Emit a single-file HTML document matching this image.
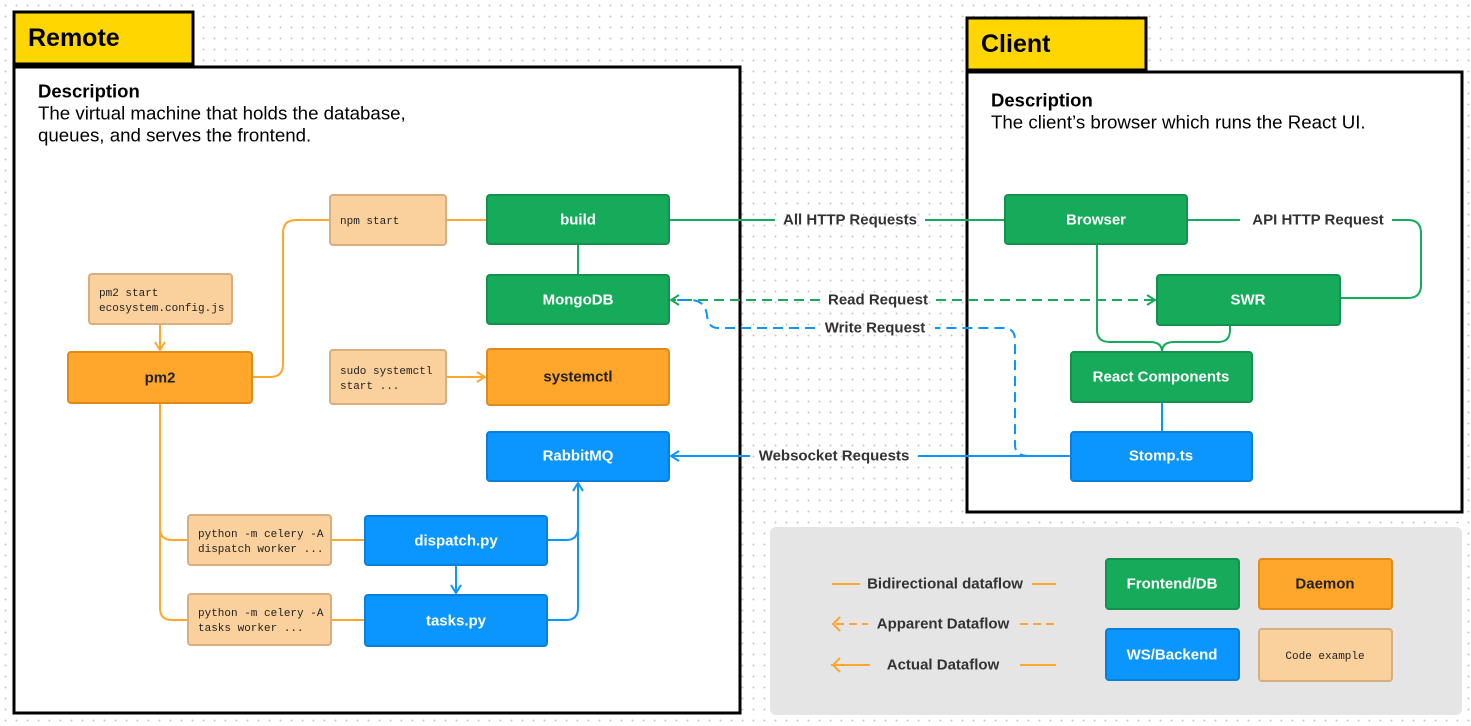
<!DOCTYPE html>
<html><head><meta charset="utf-8"><style>
html,body{margin:0;padding:0;width:1471px;height:726px;overflow:hidden;background:#fff;
background-image:radial-gradient(circle,#c8c8c8 0.8px,transparent 1.1px);background-size:11px 11px;}
svg{position:absolute;left:0;top:0;font-family:"Liberation Sans",sans-serif}
.n{font-weight:bold;font-size:15px;fill:#fff;text-anchor:middle;dominant-baseline:central}
.d{fill:#222;font-weight:bold;font-size:15px;text-anchor:middle;dominant-baseline:central}
.c{font-family:"Liberation Mono",monospace;font-size:11px;fill:#222}
.l{font-weight:bold;font-size:15px;fill:#333;text-anchor:middle;dominant-baseline:central}
</style></head><body>
<svg width="1471" height="726" viewBox="0 0 1471 726">
<defs>
<marker id="ao" markerWidth="10" markerHeight="12" refX="9" refY="6" orient="auto" markerUnits="userSpaceOnUse"><path d="M1,1 L9,6 L1,11" fill="none" stroke="#FFA62B" stroke-width="2"/></marker>
<marker id="ab" markerWidth="10" markerHeight="12" refX="9" refY="6" orient="auto" markerUnits="userSpaceOnUse"><path d="M1,1 L9,6 L1,11" fill="none" stroke="#0A95FF" stroke-width="2"/></marker>
<marker id="ag" markerWidth="10" markerHeight="12" refX="9" refY="6" orient="auto" markerUnits="userSpaceOnUse"><path d="M1,1 L9,6 L1,11" fill="none" stroke="#16AB5A" stroke-width="2"/></marker>
</defs>
<!-- containers -->
<rect x="14" y="67" width="726" height="646" fill="#fff" stroke="#000" stroke-width="3"/>
<rect x="14" y="12" width="179" height="52" fill="#FFD600" stroke="#000" stroke-width="3"/>
<text x="28" y="38" font-size="25" font-weight="bold" dominant-baseline="central">Remote</text>
<text x="38" y="91" font-size="18.5" font-weight="bold" dominant-baseline="central">Description</text>
<text x="38" y="113" font-size="18.7" dominant-baseline="central">The virtual machine that holds the database,</text>
<text x="38" y="135" font-size="18.7" dominant-baseline="central">queues, and serves the frontend.</text>

<rect x="967" y="72" width="495" height="440" fill="#fff" stroke="#000" stroke-width="3"/>
<rect x="967" y="18" width="179" height="52" fill="#FFD600" stroke="#000" stroke-width="3"/>
<text x="981" y="44" font-size="25" font-weight="bold" dominant-baseline="central">Client</text>
<text x="991" y="100" font-size="18.5" font-weight="bold" dominant-baseline="central">Description</text>
<text x="991" y="122" font-size="18.7" dominant-baseline="central">The client’s browser which runs the React UI.</text>

<rect x="770" y="527" width="692" height="188" rx="6" fill="#e5e5e5"/>

<!-- connectors -->
<g fill="none" stroke-width="2">
<path d="M252,377 H270 Q283,377 283,364 V233 Q283,220 296,220 H330" stroke="#FFA62B"/>
<path d="M446,220 H487" stroke="#FFA62B"/>
<path d="M160,324 V350" stroke="#FFA62B" marker-end="url(#ao)"/>
<path d="M446,377 H485" stroke="#FFA62B" marker-end="url(#ao)"/>
<path d="M160,403 V528 Q160,540 172,540 H188" stroke="#FFA62B"/>
<path d="M160,530 V608 Q160,620 172,620 H188" stroke="#FFA62B"/>
<path d="M331,540 H365 M331,620 H365" stroke="#FFA62B"/>
<path d="M578,244 V275" stroke="#16AB5A"/>
<path d="M456,565 V593" stroke="#0A95FF" marker-end="url(#ab)"/>
<path d="M547,540 H566 Q578,540 578,528 V483" stroke="#0A95FF" marker-end="url(#ab)"/>
<path d="M547,620 H566 Q578,620 578,608 V530" stroke="#0A95FF"/>
<path d="M669,220 H775 M925,220 H1005" stroke="#16AB5A"/>
<path d="M1187,220 H1240 M1392,220 H1408 Q1421,220 1421,233 V285 Q1421,298 1408,298 H1340" stroke="#16AB5A"/>
<path d="M1097,244 V330 Q1097,342 1110,342 H1150 Q1162,342 1162,352" stroke="#16AB5A"/>
<path d="M1230,325 V330 Q1230,342 1218,342 H1174 Q1162,342 1162,352" stroke="#16AB5A"/>
<path d="M1162,402 V432" stroke="#0A95FF"/>
<path d="M1071,456 H918 M750,456 H671" stroke="#0A95FF" marker-end="url(#ab)"/>
<path d="M820,300 H671" stroke="#16AB5A" stroke-dasharray="10,6" marker-end="url(#ag)"/>
<path d="M936,300 H1155" stroke="#16AB5A" stroke-dasharray="10,6" marker-end="url(#ag)"/>
<path d="M1030,456 Q1015,456 1015,445 V340 Q1015,328 1003,328 H935 M815,328 H718 Q708,328 707,315 Q705,300 690,300 H673" stroke="#0A95FF" stroke-dasharray="10,6"/>
</g>
<text class="l" x="850" y="220">All HTTP Requests</text>
<text class="l" x="1318" y="220">API HTTP Request</text>
<text class="l" x="878" y="300">Read Request</text>
<text class="l" x="875" y="328">Write Request</text>
<text class="l" x="834" y="456">Websocket Requests</text>

<!-- nodes -->
<g stroke-width="2">
<rect x="487" y="195" width="182" height="49" rx="3" fill="#16AB5A" stroke="#12924c"/>
<rect x="487" y="275" width="182" height="49" rx="3" fill="#16AB5A" stroke="#12924c"/>
<rect x="487" y="349" width="182" height="56" rx="3" fill="#FFA62B" stroke="#e08a18"/>
<rect x="487" y="432" width="182" height="49" rx="3" fill="#0A95FF" stroke="#087fd9"/>
<rect x="330" y="195" width="116" height="50" rx="3" fill="#FAD09C" stroke="#d8ae80"/>
<rect x="89" y="274" width="143" height="50" rx="3" fill="#FAD09C" stroke="#d8ae80"/>
<rect x="68" y="352" width="184" height="51" rx="3" fill="#FFA62B" stroke="#e08a18"/>
<rect x="330" y="350" width="116" height="54" rx="3" fill="#FAD09C" stroke="#d8ae80"/>
<rect x="188" y="515" width="143" height="50" rx="3" fill="#FAD09C" stroke="#d8ae80"/>
<rect x="365" y="516" width="182" height="49" rx="3" fill="#0A95FF" stroke="#087fd9"/>
<rect x="188" y="594" width="143" height="51" rx="3" fill="#FAD09C" stroke="#d8ae80"/>
<rect x="365" y="595" width="182" height="51" rx="3" fill="#0A95FF" stroke="#087fd9"/>
<rect x="1005" y="195" width="182" height="49" rx="3" fill="#16AB5A" stroke="#12924c"/>
<rect x="1157" y="275" width="183" height="50" rx="3" fill="#16AB5A" stroke="#12924c"/>
<rect x="1071" y="352" width="181" height="50" rx="3" fill="#16AB5A" stroke="#12924c"/>
<rect x="1071" y="432" width="181" height="49" rx="3" fill="#0A95FF" stroke="#087fd9"/>
<rect x="1106" y="559" width="133" height="50" rx="3" fill="#16AB5A" stroke="#12924c"/>
<rect x="1259" y="559" width="133" height="50" rx="3" fill="#FFA62B" stroke="#e08a18"/>
<rect x="1106" y="629" width="133" height="51" rx="3" fill="#0A95FF" stroke="#087fd9"/>
<rect x="1259" y="629" width="133" height="52" rx="3" fill="#FAD09C" stroke="#d8ae80"/>
</g>
<text class="n" x="578" y="220">build</text>
<text class="n" x="578" y="300">MongoDB</text>
<text class="d" x="578" y="377">systemctl</text>
<text class="n" x="578" y="456">RabbitMQ</text>
<text class="d" x="160" y="378">pm2</text>
<text class="n" x="456" y="541">dispatch.py</text>
<text class="n" x="456" y="621">tasks.py</text>
<text class="n" x="1096" y="220">Browser</text>
<text class="n" x="1248" y="300">SWR</text>
<text class="n" x="1161" y="377">React Components</text>
<text class="n" x="1161" y="456">Stomp.ts</text>
<text class="n" x="1172" y="584">Frontend/DB</text>
<text class="d" x="1325" y="584">Daemon</text>
<text class="n" x="1172" y="655">WS/Backend</text>
<text class="c" x="1325" y="659" text-anchor="middle">Code example</text>
<text class="c" x="340" y="224">npm start</text>
<text class="c" x="99" y="296">pm2 start</text>
<text class="c" x="99" y="311">ecosystem.config.js</text>
<text class="c" x="340" y="374">sudo systemctl</text>
<text class="c" x="340" y="389">start ...</text>
<text class="c" x="198" y="537">python -m celery -A</text>
<text class="c" x="198" y="552">dispatch worker ...</text>
<text class="c" x="198" y="616">python -m celery -A</text>
<text class="c" x="198" y="631">tasks worker ...</text>

<!-- legend lines -->
<g fill="none" stroke="#FFA62B" stroke-width="2">
<path d="M832,584 H860 M1032,584 H1056"/>
<path d="M836,624 H868" stroke-dasharray="8,5"/>
<path d="M1020,624 H1056" stroke-dasharray="8,5"/>
<path d="M831,665 H870"/>
<path d="M1020,665 H1056"/>
</g>
<path d="M840,617 L833,624 L840,631 M840,658 L833,665 L840,672" fill="none" stroke="#FFA62B" stroke-width="2"/>
<text class="l" x="945" y="584">Bidirectional dataflow</text>
<text class="l" x="943" y="624">Apparent Dataflow</text>
<text class="l" x="943" y="665">Actual Dataflow</text>
</svg>
</body></html>
